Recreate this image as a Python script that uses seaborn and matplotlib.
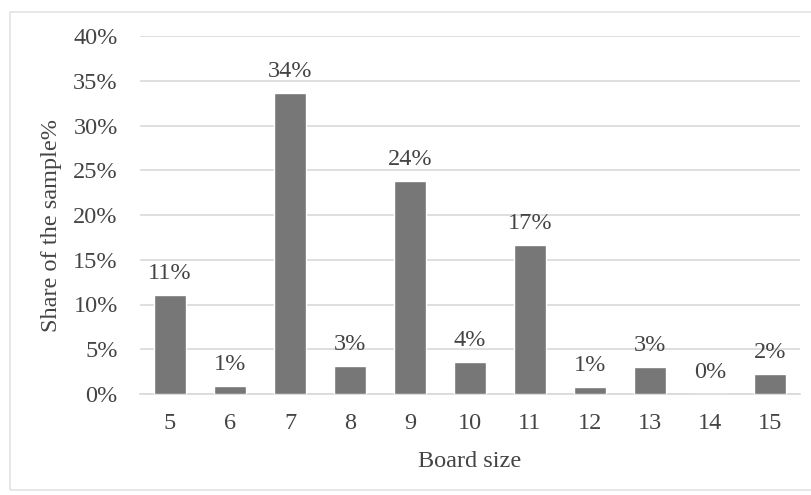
import matplotlib
matplotlib.use("Agg")
import matplotlib.pyplot as plt
from matplotlib.patches import Rectangle
from matplotlib.ticker import PercentFormatter
import seaborn as sns
import pandas as pd

# Board sizes and the share of the sample at each size
board_sizes = ["5", "6", "7", "8", "9", "10", "11", "12", "13", "14", "15"]
shares = [0.111, 0.009, 0.336, 0.031, 0.238, 0.036, 0.166, 0.008, 0.030, 0.0, 0.022]
y_ticks = [0.0, 0.05, 0.10, 0.15, 0.20, 0.25, 0.30, 0.35, 0.40]

df = pd.DataFrame({"Board size": board_sizes, "Share": shares})

sns.set_theme(style="white")
plt.rcParams["font.family"] = ["Liberation Serif", "DejaVu Serif"]

text_color = "#444444"
bar_color = "#777777"
grid_color = "#d9d9d9"

W, H = 812, 495
fig = plt.figure(figsize=(W / 100, H / 100), dpi=100)
fig.patch.set_facecolor("white")

# thin frame around the whole chart area
fig.add_artist(Rectangle((10 / W, 5 / H), 1.2, (H - 17) / H, transform=fig.transFigure,
                         fill=False, edgecolor="#e3e3e3", linewidth=1.2))

ax = fig.add_axes([140 / W, 101 / H, 660 / W, 358 / H])
sns.barplot(data=df, x="Board size", y="Share", order=board_sizes, color=bar_color,
            saturation=1, width=0.52, ax=ax, zorder=3)

ax.set_ylim(0, 0.40)
ax.set_xlim(-0.5, len(board_sizes) - 0.5)
ax.set_yticks(y_ticks)
ax.yaxis.set_major_formatter(PercentFormatter(1.0, decimals=0))
ax.grid(axis="y", color=grid_color, linewidth=1.2, zorder=0)
ax.grid(axis="x", visible=False)
for side in ["top", "right", "left"]:
    ax.spines[side].set_visible(False)
ax.spines["bottom"].set_color(grid_color)
ax.spines["bottom"].set_linewidth(1.2)

ax.tick_params(axis="both", length=0, labelsize=17.5, colors=text_color)
ax.tick_params(axis="y", pad=16)
ax.tick_params(axis="x", pad=14)

ax.set_xlabel("Board size", fontsize=17.5, color=text_color, labelpad=12)
ax.set_ylabel("Share of the sample%", fontsize=17.5, color=text_color)
ax.yaxis.set_label_coords(-0.118, 0.47)

# value labels above each bar
for i, v in enumerate(shares):
    ax.annotate(f"{v:.0%}", (i, v), xytext=(0, 8), textcoords="offset points",
                ha="center", va="bottom", fontsize=17.5, color=text_color)

fig.savefig("out.png", dpi=100, facecolor="white")
